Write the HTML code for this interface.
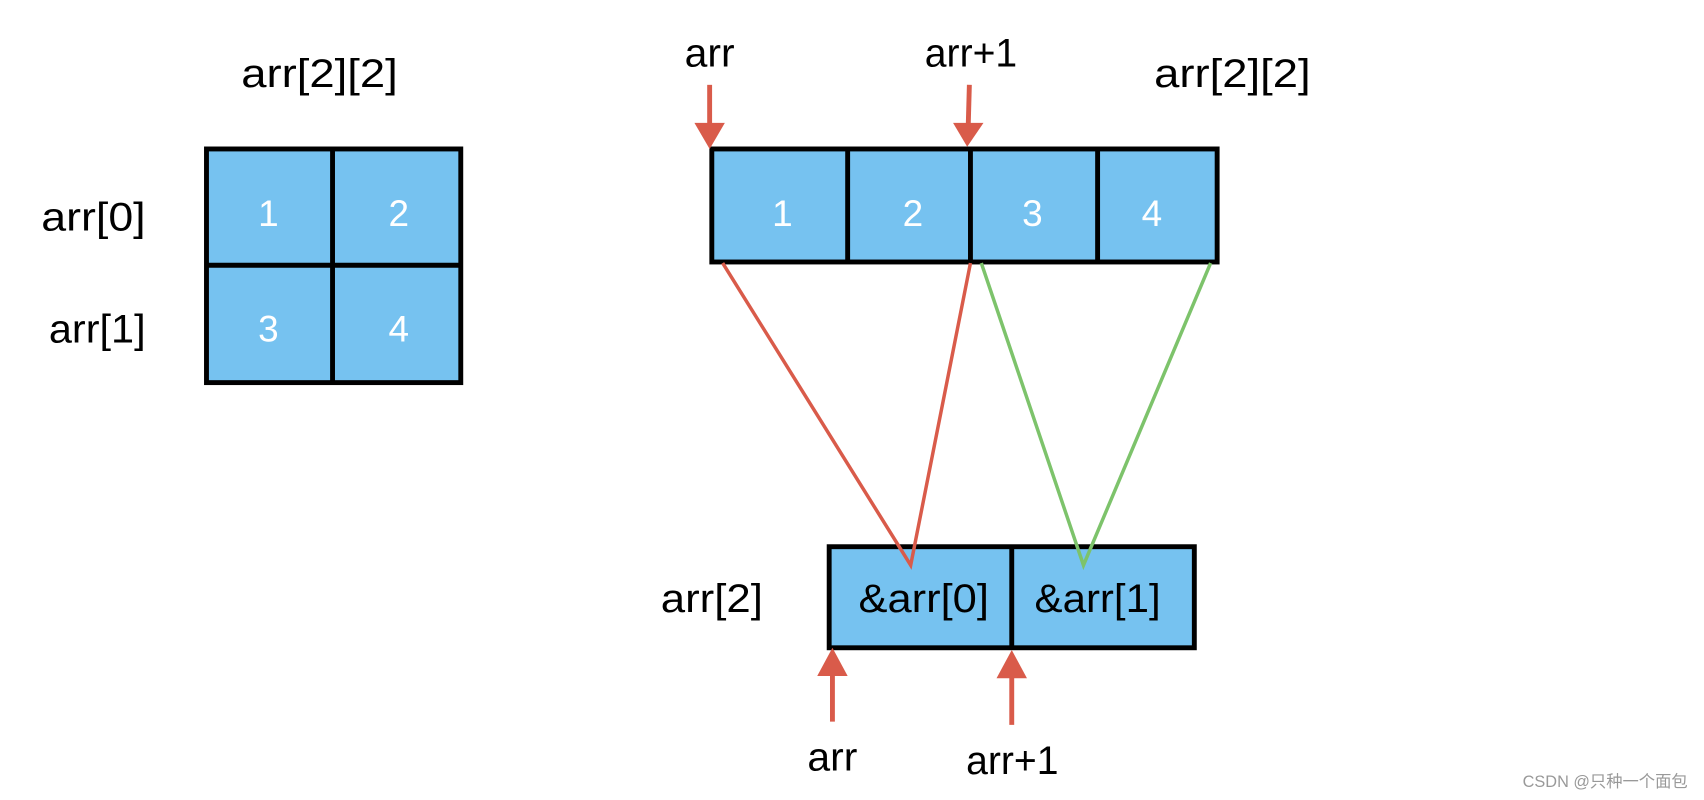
<!DOCTYPE html>
<html><head><meta charset="utf-8"><style>
html,body{margin:0;padding:0;background:#fff;}
svg{display:block;}
text{font-family:"Liberation Sans","Noto Sans CJK SC",sans-serif;}
</style></head><body>
<svg width="1704" height="800" viewBox="0 0 1568 736" xmlns="http://www.w3.org/2000/svg">
<g stroke="#000" stroke-width="4.5" fill="#76c2f0">
<rect x="190" y="137" width="234" height="215"/>
<line x1="306" y1="137" x2="306" y2="350"/>
<line x1="190" y1="244" x2="424" y2="244"/>
<rect x="655" y="137" width="465" height="104"/>
<line x1="780" y1="137" x2="780" y2="241"/>
<line x1="893" y1="137" x2="893" y2="241"/>
<line x1="1010" y1="137" x2="1010" y2="241"/>
<rect x="763" y="503" width="336" height="93"/>
<line x1="931" y1="503" x2="931" y2="596"/>
</g>
<g font-size="34" fill="#fff" text-anchor="middle">
<text x="247" y="208">1</text><text x="367" y="208">2</text>
<text x="247" y="314">3</text><text x="367" y="314">4</text>
<text x="720" y="208">1</text><text x="840" y="208">2</text>
<text x="950" y="208">3</text><text x="1060" y="208">4</text>
</g>
<g font-size="37" fill="#000" lengthAdjust="spacingAndGlyphs">
<text x="222" y="80" textLength="144" lengthAdjust="spacingAndGlyphs">arr[2][2]</text>
<text x="38" y="212" textLength="96" lengthAdjust="spacingAndGlyphs">arr[0]</text>
<text x="45" y="315" textLength="89" lengthAdjust="spacingAndGlyphs">arr[1]</text>
<text x="630" y="61" textLength="46" lengthAdjust="spacingAndGlyphs">arr</text>
<text x="851" y="61" textLength="85" lengthAdjust="spacingAndGlyphs">arr+1</text>
<text x="1062" y="80" textLength="144" lengthAdjust="spacingAndGlyphs">arr[2][2]</text>
<text x="608" y="563" textLength="94" lengthAdjust="spacingAndGlyphs">arr[2]</text>
<text x="790" y="563" textLength="120" lengthAdjust="spacingAndGlyphs">&amp;arr[0]</text>
<text x="952" y="563" textLength="116" lengthAdjust="spacingAndGlyphs">&amp;arr[1]</text>
<text x="743" y="709" textLength="46" lengthAdjust="spacingAndGlyphs">arr</text>
<text x="889" y="712" textLength="85" lengthAdjust="spacingAndGlyphs">arr+1</text>
</g>
<g stroke="#d95b4a" stroke-width="4.5" fill="none">
<line x1="653" y1="78" x2="653" y2="114"/>
<line x1="892" y1="78" x2="891" y2="114"/>
<line x1="766" y1="664" x2="766" y2="620"/>
<line x1="931" y1="667" x2="931" y2="622"/>
</g>
<g fill="#d95b4a">
<polygon points="639,113 667,113 653,137"/>
<polygon points="877,113 905,113 890,135"/>
<polygon points="752,622 780,622 766,596"/>
<polygon points="917,624 945,624 931,598"/>
</g>
<g stroke-width="3.2" fill="none">
<polyline points="665,242 838,520 893,242" stroke="#d95b4a"/>
<polyline points="903,242 997,520 1114,242" stroke="#7dc36b"/>
</g>
<text x="1553" y="724" font-size="15" fill="#999" text-anchor="end">CSDN @只种一个面包</text>
</svg>
</body></html>
